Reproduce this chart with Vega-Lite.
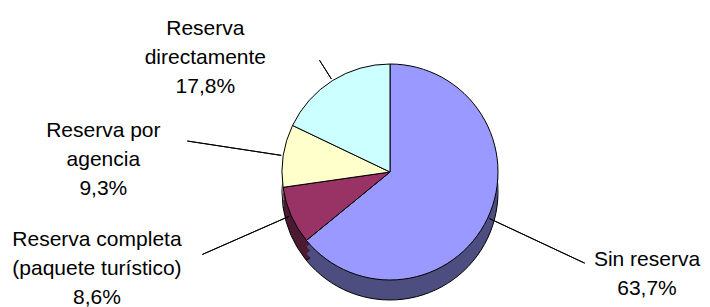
{
  "$schema": "https://vega.github.io/schema/vega-lite/v6.json",
  "width": 640,
  "height": 240,
  "autosize": "none",
  "padding": {"left": 70, "top": 52, "right": 0, "bottom": 15},
  "background": "white",
  "config": {"view": {"stroke": null}, "font": "Liberation Sans"},
  "data": {
    "values": [
      {"categoria": "Sin reserva", "valor": 63.7, "orden": 1, "etiqueta": "Sin reserva\n63,7%"},
      {"categoria": "Reserva completa (paquete turístico)", "valor": 8.6, "orden": 2, "etiqueta": "Reserva completa\n(paquete turístico)\n8,6%"},
      {"categoria": "Reserva por agencia", "valor": 9.3, "orden": 3, "etiqueta": "Reserva por\nagencia\n9,3%"},
      {"categoria": "Reserva directamente", "valor": 17.8, "orden": 4, "etiqueta": "Reserva\ndirectamente\n17,8%"}
    ]
  },
  "encoding": {
    "theta": {"field": "valor", "type": "quantitative", "stack": true},
    "order": {"field": "orden", "type": "quantitative"},
    "detail": {"field": "categoria", "type": "nominal"}
  },
  "layer": [
    {
      "mark": {"type": "arc", "radius": 108, "yOffset": 20, "stroke": "black", "strokeWidth": 1},
      "encoding": {
        "color": {"field": "categoria", "type": "nominal", "legend": null,
          "scale": {"domain": ["Sin reserva", "Reserva completa (paquete turístico)", "Reserva por agencia", "Reserva directamente"],
                    "range": ["#4D4D80", "#4D1A33", "#80806A", "#668080"]}}
      }
    },
    {
      "mark": {"type": "arc", "radius": 108, "yOffset": 13},
      "encoding": {
        "color": {"field": "categoria", "type": "nominal", "legend": null,
          "scale": {"domain": ["Sin reserva", "Reserva completa (paquete turístico)", "Reserva por agencia", "Reserva directamente"],
                    "range": ["#4D4D80", "#4D1A33", "#80806A", "#668080"]}}
      }
    },
    {
      "mark": {"type": "arc", "radius": 108, "yOffset": 6},
      "encoding": {
        "color": {"field": "categoria", "type": "nominal", "legend": null,
          "scale": {"domain": ["Sin reserva", "Reserva completa (paquete turístico)", "Reserva por agencia", "Reserva directamente"],
                    "range": ["#4D4D80", "#4D1A33", "#80806A", "#668080"]}}
      }
    },
    {
      "mark": {"type": "arc", "radius": 108, "stroke": "black", "strokeWidth": 1},
      "encoding": {
        "color": {"field": "categoria", "type": "nominal", "legend": null,
          "scale": {"domain": ["Sin reserva", "Reserva completa (paquete turístico)", "Reserva por agencia", "Reserva directamente"],
                    "range": ["#9999FF", "#993366", "#FFFFCC", "#CCFFFF"]}}
      }
    },
    {
      "mark": {"type": "arc", "radius": 205, "radius2": 110, "padAngle": 3, "fill": "transparent", "stroke": "black", "strokeWidth": 1},
      "encoding": {
        "strokeOpacity": {"condition": {"test": "datum.orden == 2 || datum.orden == 3", "value": 1}, "value": 0}
      }
    },
    {
      "mark": {"type": "arc", "radius": 132, "radius2": 110, "padAngle": 3, "fill": "transparent", "stroke": "black", "strokeWidth": 1},
      "encoding": {
        "strokeOpacity": {"condition": {"test": "datum.orden == 4", "value": 1}, "value": 0}
      }
    },
    {
      "mark": {"type": "arc", "radius": 215, "radius2": 110, "padAngle": 3, "fill": "transparent", "stroke": "black", "strokeWidth": 1},
      "encoding": {
        "theta": {"field": "valor", "type": "quantitative", "stack": true, "scale": {"range": [0.727, 4.727]}},
        "strokeOpacity": {"condition": {"test": "datum.orden == 1", "value": 1}, "value": 0}
      }
    },
    {
      "mark": {"type": "text", "radius": 270, "dx": 13, "dy": -28, "fontSize": 21, "lineHeight": 29, "lineBreak": "\n", "align": "center", "baseline": "middle", "color": "black"},
      "encoding": {
        "text": {"field": "etiqueta"},
        "opacity": {"condition": {"test": "datum.orden == 1", "value": 1}, "value": 0}
      }
    },
    {
      "mark": {"type": "text", "radius": 260, "dx": -55, "dy": -37, "fontSize": 21, "lineHeight": 29, "lineBreak": "\n", "align": "center", "baseline": "middle", "color": "black"},
      "encoding": {
        "text": {"field": "etiqueta"},
        "opacity": {"condition": {"test": "datum.orden == 2", "value": 1}, "value": 0}
      }
    },
    {
      "mark": {"type": "text", "radius": 290, "dx": 0, "dy": 3, "fontSize": 21, "lineHeight": 29, "lineBreak": "\n", "align": "center", "baseline": "middle", "color": "black"},
      "encoding": {
        "text": {"field": "etiqueta"},
        "opacity": {"condition": {"test": "datum.orden == 3", "value": 1}, "value": 0}
      }
    },
    {
      "mark": {"type": "text", "radius": 140, "dx": -110, "dy": -25, "fontSize": 21, "lineHeight": 29, "lineBreak": "\n", "align": "center", "baseline": "middle", "color": "black"},
      "encoding": {
        "text": {"field": "etiqueta"},
        "opacity": {"condition": {"test": "datum.orden == 4", "value": 1}, "value": 0}
      }
    }
  ],
  "resolve": {"scale": {"color": "independent", "theta": "independent"}}
}
